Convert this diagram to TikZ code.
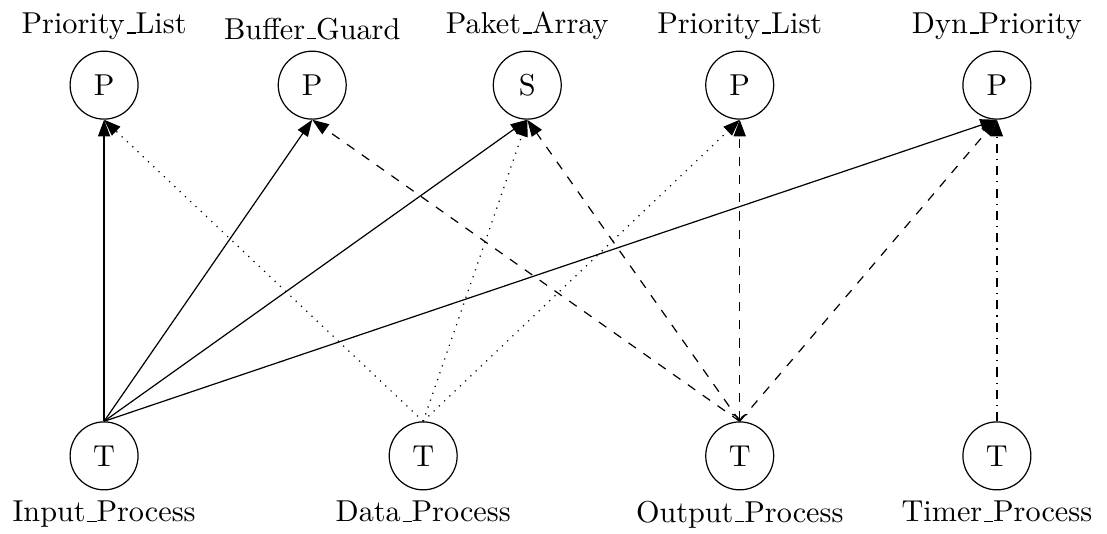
\documentclass[tikz,border=0pt]{standalone}
\usetikzlibrary{arrows.meta}
\newcommand{\us}{\kern.06em\vbox{\hrule width.3em}}
\begin{document}
\begin{tikzpicture}[proc/.style={circle, draw, minimum size=0.79cm, inner sep=0pt},
  tip/.style={-{Triangle[length=5.5pt, width=4pt]}}]
   \useasboundingbox (0,0) rectangle (12.87,6.2);
   \node[proc, label=above:Priority\us List] (plist) at (1.21,5.21) {P};
   \node[proc, label=above:Buffer\us Guard] (guard) at (3.63,5.21) {P};
   \node[proc, label=above:Paket\us Array] (paket) at (6.13,5.21) {S};
   \node[proc, label=above:Priority\us List] (plisttwo) at (8.6,5.21) {P};
   \node[proc, label=above:Dyn\us Priority] (dyn) at (11.59,5.21) {P};
   \node[proc, label=below:Input\us Process] (input) at (1.21,0.9) {T};
   \node[proc, label=below:Data\us Process] (data) at (4.92,0.9) {T};
   \node[proc, label=below:Output\us Process] (output) at (8.6,0.9) {T};
   \node[proc, label=below:Timer\us Process] (timer) at (11.59,0.9) {T};
   \draw[tip] (input.north) -- (plist.south);
   \draw[tip] (input.north) -- (guard.south);
   \draw[tip] (input.north) -- (paket.south);
   \draw[tip] (input.north) -- (dyn.south);
   \draw[tip, dotted] (data.north) -- (plist.south);
   \draw[tip, dotted] (data.north) -- (paket.south);
   \draw[tip, dotted] (data.north) -- (plisttwo.south);
   \draw[tip, dashed] (output.north) -- (guard.south);
   \draw[tip, dashed] (output.north) -- (paket.south);
   \draw[dashed, {To}-{Triangle[length=5.5pt, width=4pt]}] (output.north) -- (plisttwo.south);
   \draw[tip, dashed] (output.north) -- (dyn.south);
   \draw[tip, dashdotted] (timer.north) -- (dyn.south);
\end{tikzpicture}
\end{document}
